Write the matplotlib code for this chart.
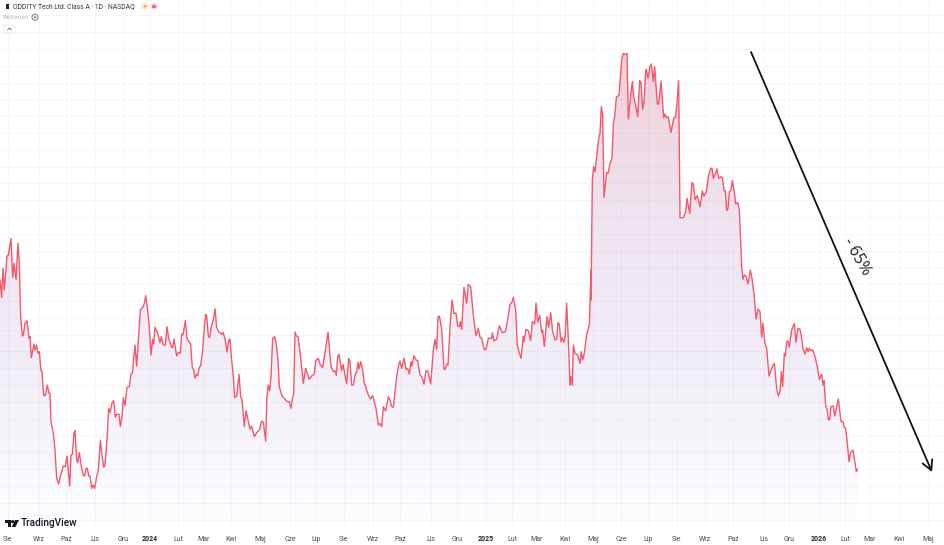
import matplotlib
matplotlib.use("Agg")
import matplotlib.pyplot as plt
import numpy as np
from matplotlib.colors import LinearSegmentedColormap
from matplotlib.patches import Polygon, Circle, Rectangle, FancyBboxPatch

plt.rcParams['font.family'] = ['Roboto', 'DejaVu Sans']

aug23_jun24 = [(0,180),(5,232),(9,145),(13,210),(21,108),(25,105),(33,55),(38,172),(42,130),(48,178),(54,70),(58,130),(62,290),(67,348),(70,345),(75,310),(81,302),(87,355),(90,350),(94,413),(102,372),(105,390),(110,375),(114,400),(118,395),(123,452),(126,455),(131,527),(136,526),(142,495),(147,520),(150,520),(153,605),(160,640),(165,690),(170,775),(176,792),(182,765),(190,738),(196,740),(201,708),(209,798),(213,705),(217,703),(222,640),(225,632),(230,720),(233,728),(238,698),(245,745),(250,767),(254,768),(258,745),(262,745),(266,768),(270,768),(275,805),(279,795),(284,805),(290,770),(295,750),(301,662),(306,705),(311,742),(315,735),(321,660),(326,566),(330,578),(336,548),(341,542),(346,592),(350,583),(357,583),(361,620),(366,590),(370,533),(375,557),(381,502),(388,500),(393,462),(397,460),(405,375),(410,438),(415,360),(421,270),(428,262),(433,250),(437,227),(443,270),(447,310),(453,405),(458,358),(461,372),(465,322),(472,335),(480,368),(484,350),(490,375),(496,375),(501,320),(506,355),(515,382),(518,383),(522,357),(530,408),(535,397),(541,400),(545,342),(549,345),(556,302),(561,355),(568,367),(572,372),(577,445),(581,448),(585,475),(590,462),(593,467),(598,442),(602,437),(608,390),(613,320),(617,283),(620,288),(625,348),(629,353),(634,320),(640,300),(645,266),(650,322),(656,335),(665,343),(669,337),(675,355),(681,396),(686,362),(690,357),(695,420),(700,470),(704,533),(710,528),(717,463),(722,530),(726,540),(733,620),(738,572),(746,610),(750,628),(755,618),(763,650),(770,638),(778,630),(785,604),(790,607),(797,663),(801,527),(805,495),(809,512),(813,470),(818,355),(824,350),(829,375),(834,420),(838,500),(845,525),(855,538),(862,545),(868,545),(873,565),(878,530),(881,525),(885,336),(889,348),(894,350)]
jul24_may25 = [(0,245),(10,340),(17,295),(28,328),(35,318),(43,312),(47,272),(55,265),(60,282),(68,293),(84,187),(93,290),(100,305),(105,302),(109,316),(113,260),(117,253),(125,302),(129,283),(140,342),(146,265),(150,275),(155,345),(160,345),(165,315),(170,305),(174,277),(177,297),(182,275),(188,300),(192,335),(197,350),(205,375),(212,387),(218,377),(228,415),(235,465),(240,460),(245,470),(250,410),(257,423),(265,380),(270,390),(275,410),(280,412),(290,320),(296,285),(300,273),(305,295),(312,265),(318,298),(323,295),(328,312),(333,275),(336,288),(342,257),(348,270),(353,272),(360,315),(366,322),(372,342),(378,302),(383,303),(392,342),(400,240),(405,208),(410,238),(414,140),(418,138),(425,175),(432,298),(436,298),(440,282),(444,285),(450,170),(456,90),(462,130),(468,130),(473,168),(478,170),(481,155),(485,178),(492,52),(500,100),(505,43),(512,50),(520,135),(528,197),(535,175),(540,202),(545,205),(553,240),(558,237),(565,205),(575,205),(577,188),(582,213),(590,207),(598,167),(607,188),(616,185),(622,155),(630,103),(635,98),(640,82),(647,120),(652,228),(663,265),(670,200),(672,215),(678,178),(685,182),(692,212),(697,155),(704,162),(708,100),(713,157),(719,135),(725,188),(728,180),(733,230),(741,140),(746,172),(752,128),(758,185),(765,210),(770,208),(774,158),(778,163),(783,215),(787,203),(791,217),(795,205),(800,100),(805,210),(810,345),(813,320),(817,345),(820,225),(825,250),(833,255),(840,280),(844,245),(848,270),(853,250),(860,195),(868,165),(873,0)]
may25_nov25 = [(63,780),(67,420),(71,380),(75,395),(82,330),(86,295),(90,280),(94,200),(98,225),(102,472),(110,398),(114,400),(120,370),(126,355),(130,250),(134,230),(139,172),(147,165),(155,60),(159,41),(165,43),(171,40),(175,237),(181,175),(187,125),(191,170),(197,195),(203,230),(209,122),(213,127),(218,208),(222,185),(227,95),(229,88),(234,115),(240,78),(244,72),(250,125),(254,80),(262,192),(266,192),(273,123),(281,233),(285,222),(289,233),(295,230),(303,277),(311,235),(316,233),(321,190),(326,122),(330,533),(340,533),(347,515),(351,475),(359,520),(366,427),(370,432),(375,478),(382,467),(390,500),(397,453),(402,468),(409,455),(415,410),(422,385),(426,385),(430,415),(436,402),(441,387),(446,415),(454,410),(458,415),(462,452),(466,452),(470,512),(474,505),(478,455),(483,450),(487,422),(493,457),(497,492),(503,487),(508,510),(512,600),(515,680),(519,718),(523,705),(528,708),(534,732),(541,690),(546,715),(553,770)]
nov25_feb26 = [(78,177),(84,147),(90,155),(95,232),(99,190),(105,250),(110,265),(117,348),(125,325),(133,310),(140,385),(145,408),(150,395),(154,335),(158,380),(163,280),(166,288),(170,245),(174,243),(178,262),(185,210),(193,190),(198,247),(204,205),(210,208),(215,235),(219,265),(225,282),(230,263),(234,275),(238,265),(243,272),(248,270),(255,290),(262,320),(268,358),(275,342),(279,375),(282,362),(287,438),(292,450),(295,480),(299,478),(303,440),(310,438),(314,468),(320,440),(325,417),(333,485),(339,485),(343,503),(347,505),(352,550),(357,605),(362,577),(369,570),(375,610),(379,635),(382,628)]

tick_labels = ["Sie", "Wrz", "Paź", "Lis", "Gru", "2024", "Lut", "Mar", "Kwi", "Maj", "Cze", "Lip",
               "Sie", "Wrz", "Paź", "Lis", "Gru", "2025", "Lut", "Mar", "Kwi", "Maj", "Cze", "Lip",
               "Sie", "Wrz", "Paź", "Lis", "Gru", "2026", "Lut", "Mar", "Kwi", "Maj"]
tick_pos = [8, 39, 66, 95, 123, 150, 178, 204, 231, 260, 290, 316,
            344, 373, 400, 431, 457, 486, 512, 537, 565, 593, 621,
            648, 677, 705, 733, 764, 789, 819, 845, 870, 899, 928]

def from_crop(points, x0, y0):
    p = np.array(points, dtype=float)
    return np.column_stack([x0 + p[:, 0] / 3, y0 + p[:, 1] / 3])

line = np.vstack([from_crop(aug23_jun24, 0, 220),
                  from_crop(jul24_may25, 300, 270),
                  from_crop(may25_nov25, 570, 40),
                  from_crop(nov25_feb26, 730, 260)])

fig = plt.figure(figsize=(9.45, 5.45), dpi=100)
ax = fig.add_axes([0, 0, 1, 1])

# area under the line, vertical gradient clipped to the line
base = 520
grad = LinearSegmentedColormap.from_list("area", ["#f3ced9", "#eee3ee", "#f2eef8", "#fdfdff"])
im = ax.imshow(np.linspace(0, 1, 256)[:, None], extent=[0, 945, base, 45], aspect="auto", cmap=grad, zorder=1)
clip = Polygon(np.vstack([line, [line[-1, 0], base], [0, base]]), transform=ax.transData, fc="none", ec="none")
ax.add_patch(clip)
im.set_clip_path(clip)

for y in np.arange(519.5, 10, -16.8):
    ax.plot([0, 945], [y, y], color="#70708a", alpha=0.05, lw=0.7, zorder=2)
for x in tick_pos:
    ax.plot([x, x], [0, 530], color="#70708a", alpha=0.05, lw=0.7, zorder=2)

ax.plot(line[:, 0], line[:, 1], color="#f5586a", lw=1.0, solid_joinstyle="round", zorder=3)

ax.annotate("", xy=(932, 472), xytext=(751, 52),
            arrowprops=dict(arrowstyle="->,head_length=0.7,head_width=0.38", color="#111111", lw=1.3,
                            shrinkA=0, shrinkB=0), zorder=4)
ax.text(857, 257, "- 65%", rotation=-60, ha="center", va="center", fontsize=11.5, color="#222222",
        fontfamily=["Open Sans", "DejaVu Sans"], zorder=4)

for x, lab in zip(tick_pos, tick_labels):
    year = lab.isdigit()
    ax.text(x, 541, lab, ha="center", va="baseline", fontsize=5, color="#26282e" if year else "#4a4d55",
            fontweight="bold" if year else "normal")

# header
ax.text(13, 6.3, "ODDITY Tech Ltd. Class A · 1D · NASDAQ", ha="left", va="center", fontsize=4.9, color="#33353b")
ax.add_patch(Rectangle((6, 3.5), 3, 5.5, fc="#222222", ec="none", zorder=5))
ax.add_patch(Circle((145, 6.3), 3.6, fc="#fdeccf", ec="none", zorder=5))
ax.add_patch(Circle((145, 6.3), 1.3, fc="#f7a43a", ec="none", zorder=6))
ax.add_patch(Circle((154, 6.3), 3.6, fc="#fbdbe3", ec="none", zorder=5))
ax.add_patch(Rectangle((152.3, 5), 3.4, 2.6, fc="#ea6f8c", ec="none", zorder=6))
ax.text(3, 17.3, "Wolumen", ha="left", va="center", fontsize=4.5, color="#b5b7bd")
ax.add_patch(Circle((35, 17.3), 3, fc="none", ec="#777a82", lw=0.7, zorder=5))
ax.add_patch(Circle((35, 17.3), 1.1, fc="#777a82", ec="none", zorder=5))
ax.add_patch(FancyBboxPatch((4, 25), 11, 8, boxstyle="round,pad=0,rounding_size=1", fc="white", ec="#e4e5e8", lw=0.6, zorder=5))
ax.plot([7.7, 9.5, 11.3], [29.8, 28, 29.8], color="#555760", lw=0.6, zorder=6)

# TradingView logo
ax.add_patch(Polygon([(5, 520), (11, 520), (11, 527), (8, 527), (8, 523), (5, 523)], fc="#131722", ec="none", zorder=5))
ax.add_patch(Circle((12.6, 521.6), 1.6, fc="#131722", ec="none", zorder=5))
ax.add_patch(Polygon([(15, 520), (19, 520), (15.5, 527), (11.7, 527)], fc="#131722", ec="none", zorder=5))
ax.text(21, 523.5, "TradingView", ha="left", va="center", fontsize=7.2, fontweight="medium", color="#131722", zorder=5)

ax.set_xlim(0, 945)
ax.set_ylim(545, 0)
ax.axis("off")
fig.savefig("out.png", dpi=100, facecolor="white")
